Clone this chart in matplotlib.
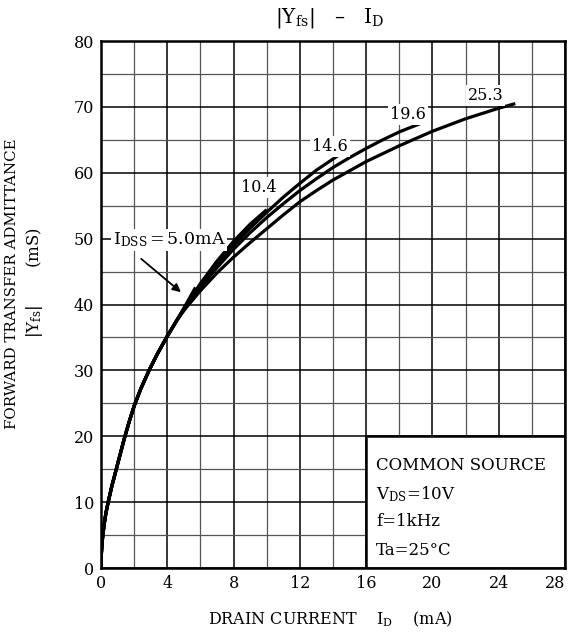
import numpy as np
import matplotlib.pyplot as plt

plt.rcParams['font.family'] = 'DejaVu Serif'
plt.rcParams['mathtext.fontset'] = 'dejavuserif'

# common lower part of all curves: ID (mA) vs |Yfs| (mS)
base_id = [0, 0.02, 0.06, 0.12, 0.2, 0.3, 0.45, 0.65, 0.9, 1.15, 1.4, 1.7, 2.0, 2.4,
           2.9, 3.4, 4.0, 4.6]
base_yfs = [0, 2.0, 3.7, 5.2, 6.8, 8.4, 10.2, 12.4, 14.8, 17.2, 19.6, 22.2, 24.6, 27.2,
            30.0, 32.5, 35.2, 37.7]

# upper parts, one per IDSS
id_5_0 = [5.1, 5.7]
yfs_5_0 = [39.9, 42.6]

id_10_4 = [5.1, 6, 7, 8, 9, 10.0]
yfs_10_4 = [39.8, 43.2, 46.6, 49.6, 52.2, 54.4]

id_14_6 = [5.1, 6, 7, 8, 9, 10, 11, 12, 13, 14.3]
yfs_14_6 = [39.7, 42.9, 46.1, 49.0, 51.6, 54.0, 56.3, 58.4, 60.4, 62.6]

id_19_6 = [5.1, 6, 7, 8, 9, 10, 11, 12, 13, 14, 15, 16, 17, 18, 19.3]
yfs_19_6 = [39.6, 42.6, 45.6, 48.4, 50.9, 53.2, 55.3, 57.3, 59.1, 60.8, 62.3, 63.7,
            65.0, 66.2, 67.5]

id_25_3 = [5.1, 6, 7, 8, 9, 10, 11, 12, 13, 14, 16, 18, 20, 22, 24, 25.0]
yfs_25_3 = [39.4, 42.1, 44.8, 47.2, 49.4, 51.5, 53.6, 55.6, 57.3, 58.9, 61.7, 64.1,
            66.3, 68.2, 69.8, 70.5]

curves = [(id_5_0, yfs_5_0), (id_10_4, yfs_10_4), (id_14_6, yfs_14_6),
          (id_19_6, yfs_19_6), (id_25_3, yfs_25_3)]

fig = plt.figure(figsize=(5.72, 6.35), dpi=100)
ax = fig.add_axes([0.1766, 0.1055, 0.8112, 0.8299])

ax.set_xlim(0, 28)
ax.set_ylim(0, 80)
ax.set_xticks(np.arange(0, 29, 4))
ax.set_yticks(np.arange(0, 81, 10))
ax.set_xticks(np.arange(2, 28, 4), minor=True)
ax.set_yticks(np.arange(5, 80, 10), minor=True)
ax.grid(which='major', color='black', linewidth=1.1)
ax.grid(which='minor', color='#555555', linewidth=0.9)
ax.tick_params(which='both', length=0, labelsize=11.5, pad=5)
ax.get_xticklabels()[-1].set_ha('right')
ax.set_axisbelow(True)
for sp in ax.spines.values():
    sp.set_linewidth(1.8)

for xs, ys in curves:
    ax.plot(base_id + xs, base_yfs + ys, color='black', linewidth=2.3,
            solid_capstyle='butt', solid_joinstyle='round', zorder=3)

wb = dict(facecolor='white', edgecolor='none', pad=1.5)
ax.text(9.5, 57.7, '10.4', fontsize=11.5, ha='center', va='center', bbox=wb, zorder=4)
ax.text(13.8, 64.0, '14.6', fontsize=11.5, ha='center', va='center', bbox=wb, zorder=4)
ax.text(18.5, 68.9, '19.6', fontsize=11.5, ha='center', va='center', bbox=wb, zorder=4)
ax.text(23.2, 71.7, '25.3', fontsize=11.5, ha='center', va='center', bbox=wb, zorder=4)
ax.text(0.7, 49.8, r'I$_\mathrm{DSS}$$\,$=$\,$5.0mA', fontsize=12.5, ha='left',
        va='center', bbox=wb, zorder=4)
ax.annotate('', xy=(4.95, 41.6), xytext=(2.3, 47.2),
            arrowprops=dict(arrowstyle='-|>', color='black', lw=1.3,
                            mutation_scale=12), zorder=4)

# condition box
ax.add_patch(plt.Rectangle((16, 0), 12, 20, facecolor='white', edgecolor='black',
                           linewidth=1.8, zorder=2))
ax.text(16.6, 15.5, 'COMMON SOURCE', fontsize=12, va='center', zorder=4)
ax.text(16.6, 11.2, r'V$_\mathrm{DS}$=10V', fontsize=12, va='center', zorder=4)
ax.text(16.6, 7.0, 'f=1kHz', fontsize=12, va='center', zorder=4)
ax.text(16.6, 2.7, 'Ta=25°C', fontsize=12, va='center', zorder=4)

fig.text(0.577, 0.972, r'$|\mathrm{Y_{fs}}|$   –   I$_\mathrm{D}$', fontsize=14.5,
         ha='center', va='center')
fig.text(0.577, 0.024, r'DRAIN CURRENT    I$_\mathrm{D}$    (mA)', fontsize=11.5,
         ha='center', va='center')
fig.text(0.021, 0.553, 'FORWARD TRANSFER ADMITTANCE', fontsize=10.8, rotation=90,
         ha='center', va='center')
fig.text(0.060, 0.555, r'$|\mathrm{Y_{fs}}|$       (mS)', fontsize=12, rotation=90,
         ha='center', va='center')

fig.savefig('out.png', dpi=100)
